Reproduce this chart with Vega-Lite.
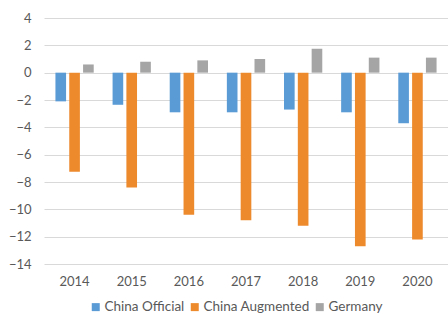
{
  "$schema": "https://vega.github.io/schema/vega-lite/v6.json",
  "width": 404,
  "height": 246,
  "autosize": "none",
  "padding": {"left": 44, "top": 18, "right": 0, "bottom": 50},
  "background": "#ffffff",
  "config": {
    "view": {"stroke": null},
    "font": "Lato",
    "axis": {"labelFont": "Lato", "labelColor": "#595959", "labelFontSize": 13},
    "legend": {"labelFont": "Lato", "labelColor": "#595959", "labelFontSize": 13.5}
  },
  "data": {
    "values": [
      {"year": "2014", "series": "China Official", "value": -2.1},
      {"year": "2014", "series": "China Augmented", "value": -7.25},
      {"year": "2014", "series": "Germany", "value": 0.6},
      {"year": "2015", "series": "China Official", "value": -2.35},
      {"year": "2015", "series": "China Augmented", "value": -8.4},
      {"year": "2015", "series": "Germany", "value": 0.8},
      {"year": "2016", "series": "China Official", "value": -2.9},
      {"year": "2016", "series": "China Augmented", "value": -10.4},
      {"year": "2016", "series": "Germany", "value": 0.9},
      {"year": "2017", "series": "China Official", "value": -2.9},
      {"year": "2017", "series": "China Augmented", "value": -10.8},
      {"year": "2017", "series": "Germany", "value": 1.0},
      {"year": "2018", "series": "China Official", "value": -2.7},
      {"year": "2018", "series": "China Augmented", "value": -11.2},
      {"year": "2018", "series": "Germany", "value": 1.75},
      {"year": "2019", "series": "China Official", "value": -2.9},
      {"year": "2019", "series": "China Augmented", "value": -12.7},
      {"year": "2019", "series": "Germany", "value": 1.1},
      {"year": "2020", "series": "China Official", "value": -3.7},
      {"year": "2020", "series": "China Augmented", "value": -12.2},
      {"year": "2020", "series": "Germany", "value": 1.1}
    ]
  },
  "mark": {"type": "bar"},
  "encoding": {
    "x": {
      "field": "year", "type": "nominal", "title": null,
      "scale": {"paddingInner": 0.33, "paddingOuter": 0.2},
      "axis": {"labelAngle": 0, "domain": false, "ticks": false, "labelPadding": 11, "grid": false}
    },
    "xOffset": {
      "field": "series", "type": "nominal",
      "sort": ["China Official", "China Augmented", "Germany"],
      "scale": {"paddingInner": 0.23}
    },
    "y": {
      "field": "value", "type": "quantitative", "title": null,
      "scale": {"domain": [-14, 4], "nice": false},
      "axis": {"values": [-14, -12, -10, -8, -6, -4, -2, 0, 2, 4], "domain": false, "ticks": false, "labelPadding": 13, "gridColor": "#d9d9d9", "gridWidth": 1}
    },
    "color": {
      "field": "series", "type": "nominal",
      "sort": ["China Official", "China Augmented", "Germany"],
      "scale": {"domain": ["China Official", "China Augmented", "Germany"], "range": ["#5b9bd5", "#ed8a2c", "#a5a5a5"]},
      "legend": {
        "title": null, "orient": "none", "direction": "horizontal",
        "legendX": 45, "legendY": 282,
        "symbolType": "square", "symbolSize": 64, "symbolStrokeWidth": 0,
        "labelOffset": 2, "columnPadding": 3
      }
    }
  }
}
